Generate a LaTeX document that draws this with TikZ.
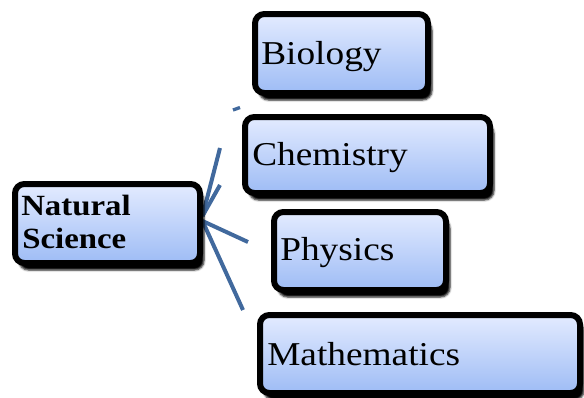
\documentclass[tikz,border=0pt]{standalone}
\usepackage{fontspec}
\newfontfamily\boxfont[FakeStretch=1.12]{Liberation Serif}
\usetikzlibrary{shadows.blur}
\definecolor{conncol}{HTML}{41699D}
\definecolor{topc}{HTML}{E3EBFF}
\definecolor{botc}{HTML}{9EBCF5}
\tikzset{
  sbox/.style={rectangle, rounded corners=7pt, inner sep=0pt, outer sep=0pt,
    draw=black, line width=4.5pt, top color=topc, bottom color=botc,
    blur shadow={shadow xshift=3pt, shadow yshift=-5.25pt, shadow blur radius=1.5pt, shadow opacity=100}},
  lbl/.style={anchor=base west, inner sep=0pt, font=\boxfont\fontsize{25}{30}\selectfont},
  nslbl/.style={anchor=base west, inner sep=0pt, font=\boxfont\fontsize{22}{25}\selectfont\bfseries},
  conn/.style={draw=conncol, line width=3pt}
}
\begin{document}
\begin{tikzpicture}[x=0.75pt, y=-0.75pt]
\useasboundingbox (0,0) rectangle (584,397);
% free ends of connectors
\coordinate (e1) at (220,148);
\coordinate (e2) at (220,185);
\coordinate (e3) at (248,242);
\coordinate (e4) at (243,310);
\coordinate (f1) at (233,110);
\coordinate (f2) at (240,107.5);
% connectors (drawn first, boxes cover their start)
\path (107.5,223.5) coordinate (nsc);
\draw[conn] ([shift={(95,-7.5)}]nsc) -- (e1);
\draw[conn] ([shift={(95,-7.5)}]nsc) -- (e2);
\draw[conn] ([shift={(95,-2.5)}]nsc) -- (e3);
\draw[conn] ([shift={(95,-2.5)}]nsc) -- (e4);
\draw[conn, line width=2.5pt] (f1) -- (f2);
% boxes
\node[sbox, minimum width=185*0.75pt, minimum height=79*0.75pt] (ns) at (nsc) {};
\node[sbox, minimum width=173*0.75pt, minimum height=79*0.75pt] (bio) at (341.5,53.5) {};
\node[sbox, minimum width=245*0.75pt, minimum height=76*0.75pt] (chem) at (367.5,155) {};
\node[sbox, minimum width=172*0.75pt, minimum height=78*0.75pt] (phys) at (360,251) {};
\node[sbox, minimum width=320*0.75pt, minimum height=78*0.75pt] (math) at (420,354) {};
% labels
\node[nslbl] (nst1) at (21,215) {Natural};
\node[nslbl] (nst2) at (22,248) {Science};
\node[lbl] (biot) at (261,64) {Biology};
\node[lbl] (chemt) at (252,165) {Chemistry};
\node[lbl] (physt) at (280,260) {Physics};
\node[lbl] (matht) at (267,365) {Mathematics};
\end{tikzpicture}
\end{document}
